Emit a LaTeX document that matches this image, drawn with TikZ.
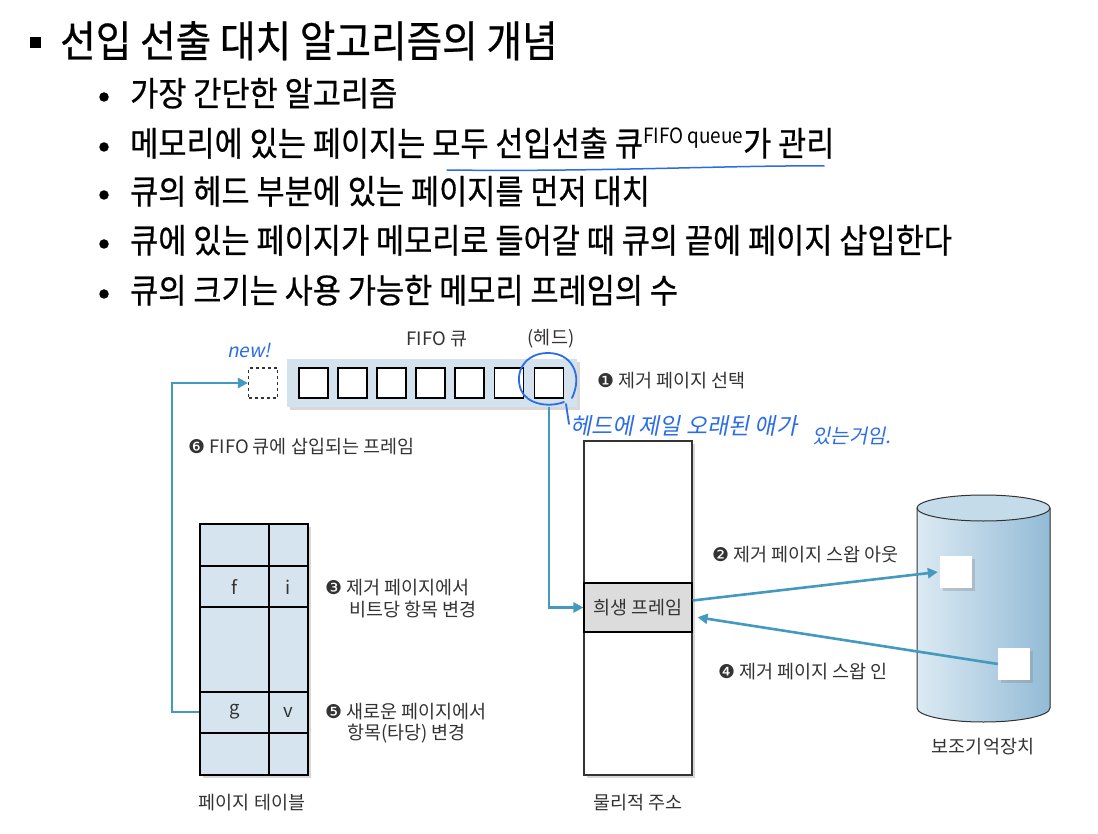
\documentclass[tikz,border=0pt]{standalone}
\usepackage{fontspec}
\setmainfont{Noto Sans CJK KR}
\newfontfamily\krc[FakeStretch=0.9,FakeBold=0.6]{Noto Sans CJK KR}
\newfontfamily\krs[FakeStretch=0.9]{Noto Sans CJK KR}
\newfontfamily\dv{DejaVu Sans}
\newfontfamily\hand[FakeSlant=0.2]{Noto Sans CJK KR}
\usetikzlibrary{arrows.meta,shadows,calc}
\definecolor{teal}{HTML}{4499BF}
\definecolor{qfill}{HTML}{D3E2EC}
\definecolor{tfill}{HTML}{D5E4EE}
\definecolor{vicfill}{HTML}{DCDCDC}
\definecolor{txt}{HTML}{333333}
\definecolor{pen}{HTML}{2B6DE8}
\definecolor{cylL}{HTML}{DCEAF3}
\definecolor{cylR}{HTML}{92BBD6}
\definecolor{cylT}{HTML}{C4DBEA}
\tikzset{
  topline/.style={anchor=base west, font=\krc\fontsize{34}{34}\selectfont, inner sep=0pt},
  dot/.style={circle, fill=black, minimum size=9.5pt, inner sep=0pt},
  lbl/.style={font=\fontsize{18.5}{18.5}\selectfont, text=txt, inner sep=0pt},
  cell/.style={draw=black, line width=1.2pt, fill=white, minimum width=29pt, minimum height=30pt, inner sep=0pt},
  shad/.style={drop shadow={opacity=0.3, shadow xshift=3pt, shadow yshift=-3pt}},
  conn/.style={draw=teal, line width=2.6pt},
  tip/.style={-{Triangle[length=10pt,width=10pt]}},
  hw/.style={text=pen, inner sep=0pt},
  penline/.style={draw=pen, line width=1.8pt, line cap=round, line join=round},
}
\newcommand{\dn}[1]{{\dv\fontsize{19}{19}\selectfont #1}}
\begin{document}
\begin{tikzpicture}[x=1pt,y=-1pt]
\useasboundingbox[fill=white] (0,0) rectangle (1098,834);

% ---------- header text ----------
\node[fill=black, minimum width=11pt, minimum height=11pt, inner sep=0pt] (sq) at (35.5,42.5) {};
\node[anchor=base west, font=\krc\fontsize{43}{43}\selectfont, inner sep=0pt] (title) at (60,57) {선입 선출 대치 알고리즘의 개념};

\node[dot] (d1) at (104,97) {};
\node[topline] (b1) at (130,106) {가장 간단한 알고리즘};
\node[dot] (d2) at (104,147) {};
\node[topline] (b2) at (130,156) {메모리에 있는 페이지는 모두 선입선출 큐\raisebox{0.36em}{\krs\fontsize{21}{21}\selectfont FIFO queue}가 관리};
\node[dot] (d3) at (104,195) {};
\node[topline] (b3) at (130,204) {큐의 헤드 부분에 있는 페이지를 먼저 대치};
\node[dot] (d4) at (104,244) {};
\node[topline] (b4) at (130,253) {큐에 있는 페이지가 메모리로 들어갈 때 큐의 끝에 페이지 삽입한다};
\node[dot] (d5) at (104,294) {};
\node[topline] (b5) at (130,303) {큐의 크기는 사용 가능한 메모리 프레임의 수};

% handwritten underline
\draw[penline, line width=1.5pt] (447,170) .. controls (600,172) and (740,165) .. (824,166);

% ---------- FIFO queue ----------
\node[lbl] (fifo) at (437,339) {FIFO 큐};
\node[lbl] (head) at (551,339) {(헤드)};
\node[shad, fill=qfill, minimum width=290pt, minimum height=48pt, inner sep=0pt] (qb) at (432,383) {};
\node[cell] (q1) at (313.5,383) {};
\node[cell] (q2) at (352.5,383) {};
\node[cell] (q3) at (391.5,383) {};
\node[cell] (q4) at (430.5,383) {};
\node[cell] (q5) at (469.5,383) {};
\node[cell] (q6) at (509,383) {};
\node[cell] (q7) at (549,383) {};
\node[draw=txt, dashed, line width=1.1pt, minimum width=29pt, minimum height=30pt, inner sep=0pt] (qn) at (263,383) {};
\node[lbl, anchor=west] (l1) at (597,381) {\dn{❶} 제거 페이지 선택};

% ---------- page table ----------
\node[shad, draw=black, line width=1.2pt, fill=tfill, minimum width=108pt, minimum height=251pt, inner sep=0pt] (tab) at (254,649.5) {};
\draw[line width=1.1pt] (269,524) -- (269,775);
\foreach \yy in {566,607,692,733} \draw[line width=1.1pt] (200,\yy) -- (308,\yy);
\node[lbl] (cf) at (234.5,587) {f};
\node[lbl] (ci) at (288.5,587) {i};
\node[lbl] (cg) at (234.5,712) {g};
\node[lbl] (cv) at (288.5,712) {v};
\node[lbl] (tabl) at (252,803) {페이지 테이블};
\node[lbl, anchor=west] (l3a) at (325,588) {\dn{❸} 제거 페이지에서};
\node[lbl, anchor=west] (l3b) at (349,610) {비트당 항목 변경};
\node[lbl, anchor=west] (l5a) at (325,712) {\dn{❺} 새로운 페이지에서};
\node[lbl, anchor=west] (l5b) at (347,734) {항목(타당) 변경};
\node[lbl, anchor=west] (l6) at (188,447) {\dn{❻} FIFO 큐에 삽입되는 프레임};

% ---------- physical memory ----------
\node[shad, draw=txt, line width=1.2pt, fill=white, minimum width=108pt, minimum height=334pt, inner sep=0pt] (mem) at (638,608) {};
\node[draw=black, line width=1.2pt, fill=vicfill, minimum width=108pt, minimum height=49pt, inner sep=0pt] (vic) at (638,607.5) {};
\node[lbl] (vict) at (638,607.5) {희생 프레임};
\node[lbl] (meml) at (638,803) {물리적 주소};

% ---------- secondary storage ----------
\fill[left color=cylL, right color=cylR] (917,508) -- (917,708) arc[start angle=180, end angle=0, x radius=66.5, y radius=14] -- (1050,508) -- cycle;
\fill[cylT] (983.5,508) ellipse [x radius=66.5, y radius=13];
\draw[txt, line width=1pt] (917,508) -- (917,708) arc[start angle=180, end angle=0, x radius=66.5, y radius=14] -- (1050,508);
\draw[txt, line width=1pt] (983.5,508) ellipse [x radius=66.5, y radius=13];
\node[shad, fill=white, minimum width=32pt, minimum height=32pt, inner sep=0pt] (s1) at (956,572) {};
\node[shad, fill=white, minimum width=32pt, minimum height=32pt, inner sep=0pt] (s2) at (1014,664) {};
\node[lbl] (cyll) at (983,747) {보조기억장치};
\node[lbl, anchor=west] (l2) at (712,555) {\dn{❷} 제거 페이지 스왑 아웃};
\node[lbl, anchor=west] (l4) at (718,672) {\dn{❹} 제거 페이지 스왑 인};

% ---------- connectors ----------
\coordinate (bend) at (172,383);
\draw[conn, tip] (cg.west -| tab.west) -| (bend) -- (qn.west);
\draw[conn, tip] (q7.south |- qb.south) |- (vic.west);
\draw[conn, tip] ([yshift=7pt]vic.east) -- ([xshift=-2pt]s1.west);
\draw[conn, tip, shorten >=5pt] (s2.west) -- ([yshift=-9pt]vic.east);

% ---------- handwritten notes ----------
\node[hw, anchor=base west, font=\hand\fontsize{19}{19}\selectfont] (new) at (227,357) {new!};
\draw[penline] (572,398) .. controls (583,375) and (572,353) .. (548,353) .. controls (525,353) and (514,372) .. (521,390) .. controls (527,404) and (548,408) .. (564,402);
\draw[penline] (566,404) -- (569,424);
\node[hw, anchor=base west, font=\hand\fontsize{23}{23}\selectfont] (note1) at (570,434) {헤드에 제일 오래된 애가};
\node[hw, anchor=base west, font=\hand\fontsize{20}{20}\selectfont] (note2) at (812,443) {있는거임.};
\end{tikzpicture}
\end{document}
